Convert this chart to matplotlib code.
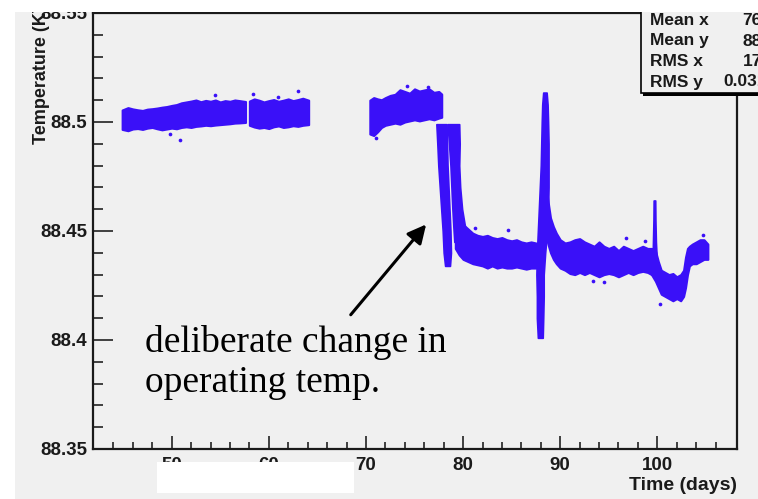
import numpy as np
import matplotlib
matplotlib.use("Agg")
import matplotlib.pyplot as plt
from matplotlib.patches import Rectangle

W, H = 758, 499
BLUE = "#3a10f8"
GRAY = "#f0f0f0"

# --- data (temperature cloud envelopes) ---
# early running, part 1
t_a1 = [44.9, 45.5, 46.0, 46.5, 47.0, 47.5, 48.0, 48.5, 49.0, 49.5, 50.0, 50.5, 51.0,
        51.5, 52.0, 52.5, 53.0, 53.5, 54.0, 54.5, 55.0, 55.5, 56.0, 56.5, 57.0, 57.6]
hi_a1 = [88.5055, 88.5066, 88.5060, 88.5056, 88.5053, 88.5059, 88.5061, 88.5064, 88.5068,
         88.5071, 88.5076, 88.5080, 88.5088, 88.5092, 88.5096, 88.5101, 88.5093, 88.5099,
         88.5095, 88.5101, 88.5092, 88.5098, 88.5095, 88.5101, 88.5098, 88.5094]
lo_a1 = [88.4966, 88.4960, 88.4968, 88.4970, 88.4966, 88.4972, 88.4975, 88.4969, 88.4964,
         88.4968, 88.4972, 88.4969, 88.4975, 88.4978, 88.4975, 88.4980, 88.4982, 88.4985,
         88.4983, 88.4986, 88.4988, 88.4990, 88.4992, 88.4995, 88.4996, 88.4998]
# early running, part 2
t_a2 = [58.0, 58.5, 59.0, 59.5, 60.0, 60.5, 61.0, 61.5, 62.0, 62.5, 63.0, 63.5, 64.1]
hi_a2 = [88.5096, 88.5106, 88.5100, 88.5092, 88.5098, 88.5103, 88.5095, 88.5100, 88.5106,
         88.5098, 88.5103, 88.5109, 88.5100]
lo_a2 = [88.4985, 88.4977, 88.4972, 88.4975, 88.4970, 88.4978, 88.4982, 88.4975, 88.4978,
         88.4983, 88.4980, 88.4985, 88.4988]
# before the change
t_b = [70.4, 70.8, 71.2, 71.6, 72.0, 72.5, 73.0, 73.5, 74.0, 74.5, 75.0, 75.5, 76.0,
       76.5, 77.0, 77.5, 77.8]
hi_b = [88.5100, 88.5112, 88.5106, 88.5102, 88.5112, 88.5122, 88.5127, 88.5148, 88.5140,
        88.5132, 88.5152, 88.5142, 88.5147, 88.5152, 88.5136, 88.5140, 88.5128]
lo_b = [88.4945, 88.4938, 88.4955, 88.4975, 88.4985, 88.4990, 88.4995, 88.4990, 88.5000,
        88.5005, 88.5010, 88.5005, 88.5010, 88.5015, 88.5010, 88.5018, 88.5022]
# drop strands (temperature vs left/right time edge)
y_s1 = [88.499, 88.490, 88.480, 88.470, 88.460, 88.450, 88.440, 88.434]
xl_s1 = [77.25, 77.35, 77.45, 77.6, 77.75, 77.9, 78.0, 78.15]
xr_s1 = [78.3, 78.35, 78.4, 78.5, 78.6, 78.7, 78.75, 78.65]
y_s2 = [88.499, 88.490, 88.480, 88.470, 88.460, 88.452, 88.445]
xl_s2 = [78.4, 78.55, 78.7, 78.8, 78.9, 79.0, 79.1]
xr_s2 = [79.6, 79.65, 79.6, 79.7, 79.9, 80.2, 80.5]
# after the change
t_c = [79.2, 79.6, 80.0, 80.5, 81.0, 81.5, 82.0, 82.5, 83.0, 83.5, 84.0, 84.5, 85.0,
       85.5, 86.0, 86.5, 87.0, 87.5, 87.8]
hi_c = [88.468, 88.459, 88.453, 88.451, 88.449, 88.448, 88.4475, 88.448, 88.447, 88.4465,
        88.447, 88.446, 88.4455, 88.446, 88.445, 88.4445, 88.445, 88.4445, 88.443]
lo_c = [88.442, 88.439, 88.437, 88.436, 88.435, 88.4345, 88.434, 88.433, 88.434, 88.433,
        88.4335, 88.433, 88.433, 88.4335, 88.433, 88.4325, 88.433, 88.433, 88.434]
# dip and spike near day 88
y_s3 = [88.401, 88.410, 88.420, 88.430, 88.440, 88.450, 88.460, 88.470, 88.480, 88.490,
        88.500, 88.508, 88.5135]
xl_s3 = [87.7, 87.6, 87.6, 87.55, 87.6, 87.7, 87.8, 87.9, 88.0, 88.05, 88.1, 88.15, 88.25]
xr_s3 = [88.2, 88.25, 88.3, 88.3, 88.45, 88.65, 88.75, 88.8, 88.8, 88.8, 88.75, 88.7, 88.6]
t_d = [88.5, 88.8, 89.0, 89.3, 89.6, 90.0, 90.5, 91.0, 91.5, 92.0, 92.5, 93.0, 93.5,
       94.0, 94.5, 95.0, 95.5, 96.0, 96.5, 97.0, 97.5, 98.0, 98.5, 99.0, 99.4]
hi_d = [88.472, 88.462, 88.456, 88.452, 88.449, 88.446, 88.4445, 88.445, 88.446, 88.4465,
        88.445, 88.444, 88.443, 88.445, 88.443, 88.442, 88.443, 88.441, 88.443, 88.442,
        88.441, 88.442, 88.443, 88.442, 88.442]
lo_d = [88.448, 88.443, 88.440, 88.437, 88.435, 88.433, 88.432, 88.4305, 88.430, 88.431,
        88.430, 88.431, 88.430, 88.429, 88.430, 88.4305, 88.430, 88.429, 88.430, 88.431,
        88.430, 88.431, 88.4315, 88.431, 88.430]
# spike near day 100
y_s4 = [88.436, 88.445, 88.455, 88.464]
xl_s4 = [99.5, 99.55, 99.6, 99.62]
xr_s4 = [99.95, 99.85, 99.8, 99.78]
# last dip and recovery
t_e = [99.4, 99.8, 100.1, 100.4, 100.8, 101.2, 101.6, 102.0, 102.4, 102.7, 102.9, 103.1,
       103.3, 103.6, 104.0, 104.4, 104.8, 105.2]
hi_e = [88.442, 88.441, 88.436, 88.432, 88.431, 88.430, 88.4305, 88.429, 88.430, 88.432,
        88.438, 88.442, 88.443, 88.444, 88.445, 88.446, 88.446, 88.444]
lo_e = [88.430, 88.427, 88.424, 88.421, 88.420, 88.419, 88.418, 88.419, 88.418, 88.420,
        88.424, 88.430, 88.434, 88.435, 88.435, 88.436, 88.437, 88.437]
# stray points
t_out = [49.8, 50.9, 54.5, 58.4, 60.9, 63.0, 71.0, 74.2, 76.4, 81.2, 84.6, 93.4, 94.5,
         96.8, 98.7, 100.3, 104.7]
T_out = [88.4946, 88.4919, 88.5125, 88.5130, 88.5116, 88.5143, 88.4925, 88.5165, 88.5160,
         88.4515, 88.4505, 88.4270, 88.4265, 88.4470, 88.4455, 88.4165, 88.4480]

stat_names = ["Mean x", "Mean y", "RMS x", "RMS y"]
stat_vals = ["76.43", "88.46", "17.19", "0.03152"]


def fpx(x, y):
    """pixel (from top-left) -> figure fraction"""
    return x / W, 1 - y / H


fig = plt.figure(figsize=(W / 100, H / 100), dpi=100, facecolor="white")
fig.patches.append(Rectangle(fpx(15, H), (W - 15) / W, (H - 12) / H,
                             transform=fig.transFigure, facecolor=GRAY,
                             edgecolor="none", zorder=-10))

ax = fig.add_axes([93 / W, 50 / H, (737 - 93) / W, (449 - 13) / H])
ax.set_facecolor(GRAY)
ax.set_xlim(41.9, 108.2)
ax.set_ylim(88.35, 88.55)

for t, lo, hi in [(t_a1, lo_a1, hi_a1), (t_a2, lo_a2, hi_a2), (t_b, lo_b, hi_b),
                  (t_c, lo_c, hi_c), (t_d, lo_d, hi_d), (t_e, lo_e, hi_e)]:
    ax.fill_between(t, lo, hi, color=BLUE, lw=1.5, edgecolor=BLUE)
for y, xl, xr in [(y_s1, xl_s1, xr_s1), (y_s2, xl_s2, xr_s2),
                  (y_s3, xl_s3, xr_s3), (y_s4, xl_s4, xr_s4)]:
    ax.fill_betweenx(y, xl, xr, color=BLUE, lw=1.2, edgecolor=BLUE)
ax.scatter(t_out, T_out, s=7, color=BLUE, lw=0)

# axes styling, ROOT-like
ax.set_xticks([50, 60, 70, 80, 90, 100])
ax.set_xticks(np.arange(44, 108, 2), minor=True)
ax.set_yticks([88.35, 88.4, 88.45, 88.5, 88.55])
ax.set_yticklabels(["88.35", "88.4", "88.45", "88.5", "88.55"])
ax.set_yticks(np.arange(88.36, 88.55, 0.01), minor=True)
ax.tick_params(which="both", direction="in", width=1.2, color="#222222")
ax.tick_params(axis="y", which="major", length=14.5, pad=4)
ax.tick_params(axis="y", which="minor", length=7.5)
ax.tick_params(axis="x", which="major", length=9.5, pad=6)
ax.tick_params(axis="x", which="minor", length=5)
ax.tick_params(right=False, top=False)
for lab in ax.get_xticklabels() + ax.get_yticklabels():
    lab.set_fontfamily("Liberation Sans")
    lab.set_fontweight("bold")
    lab.set_fontsize(13.5)
    lab.set_color("#1a1a1a")
for s in ax.spines.values():
    s.set_linewidth(1.6)
    s.set_color("#1a1a1a")

fig.text(*fpx(41, 6), "Temperature (K)", rotation=90, ha="center", va="top",
         fontsize=13, fontweight="bold", family="Liberation Sans", color="#1a1a1a")
fig.text(*fpx(737, 490), "Time (days)", ha="right", va="baseline",
         fontsize=14, fontweight="bold", family="Liberation Sans", color="#1a1a1a")

ax.annotate("", xy=(76.38, 88.4540), xytext=(68.25, 88.4106),
            arrowprops=dict(arrowstyle="-|>", lw=2.2, color="black", mutation_scale=28))
ax.text(47.27, 88.3762, "deliberate change in\noperating temp.", ha="left", va="baseline",
        fontsize=27, family="Liberation Serif", color="black")

# stats box (cut by the image edge)
fig.patches.append(Rectangle(fpx(643, 96), 0.3, 96 / H, transform=fig.transFigure,
                             facecolor="black", edgecolor="none", zorder=5))
fig.patches.append(Rectangle(fpx(641, 93), 0.3, 93 / H, transform=fig.transFigure,
                             facecolor=GRAY, edgecolor="black", lw=1.2, zorder=6))
for i, (nm, v) in enumerate(zip(stat_names, stat_vals)):
    yb = 25 + i * 20.5
    fig.text(*fpx(650, yb), nm, ha="left", va="baseline", fontsize=12.5,
             fontweight="bold", family="Liberation Sans", zorder=7, color="#1a1a1a")
    fig.text(*fpx(786, yb), v, ha="right", va="baseline", fontsize=12.5,
             fontweight="bold", family="Liberation Sans", zorder=7, color="#1a1a1a")

# white masks seen in the original scan
fig.patches.append(Rectangle(fpx(0, 12), 1, 12 / H, transform=fig.transFigure,
                             facecolor="white", edgecolor="none", zorder=20))
fig.patches.append(Rectangle(fpx(157, 493), (354 - 157) / W, (493 - 462) / H,
                             transform=fig.transFigure, facecolor="white",
                             edgecolor="none", zorder=20))

fig.savefig("out.png", dpi=100, facecolor=fig.get_facecolor())
